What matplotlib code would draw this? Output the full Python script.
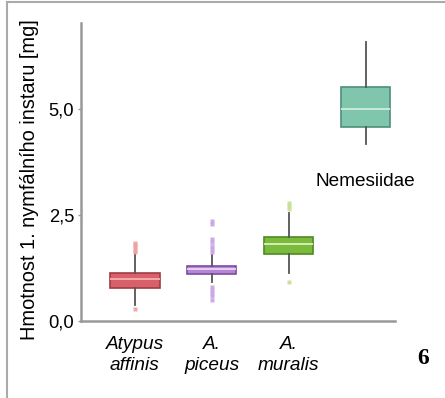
import numpy as np
import matplotlib
matplotlib.use("Agg")
import matplotlib.pyplot as plt
from matplotlib.lines import Line2D

plt.rcParams["font.family"] = ["Liberation Sans", "DejaVu Sans"]

# Place for data
labels = ["Atypus\naffinis", "A.\npiceus", "A.\nmuralis", ""]
medians = [0.98, 1.22, 1.81, 4.99]
q1 = [0.77, 1.12, 1.59, 4.58]
q3 = [1.13, 1.29, 1.99, 5.53]
whis_lo = [0.38, 0.92, 1.14, 4.17]
whis_hi = [1.58, 1.56, 2.54, 6.59]
fliers = [
    [0.28, 1.62, 1.68, 1.74, 1.80, 1.84],
    [0.50, 0.58, 0.66, 0.74, 0.81, 1.62, 1.70, 1.78, 1.86, 1.94, 2.28, 2.36],
    [0.91, 2.64, 2.72, 2.78],
    [],
]
fill = ["#d9606b", "#b585d6", "#7bba3c", "#7fc6ad"]
edge = ["#9e3b45", "#7c4ea0", "#4e8a23", "#4f8f7c"]
med_col = ["#f3b0b0", "#ecd2f5", "#dcf2b8", "#cdeee2"]
flier_col = ["#eea0a0", "#c9a2e2", "#c4e08e", "#a8dcc8"]
yticks = [0.0, 2.5, 5.0]
ytick_labels = ["0,0", "2,5", "5,0"]

fs = 13.7

fig = plt.figure(figsize=(4.45, 3.98), dpi=100)
ax = fig.add_axes([81 / 445, 77 / 398, 314 / 445, 298 / 398])

pos = np.arange(1, len(labels) + 1)
for i in range(len(labels)):
    st = [{"med": medians[i], "q1": q1[i], "q3": q3[i],
           "whislo": whis_lo[i], "whishi": whis_hi[i], "fliers": fliers[i]}]
    ax.bxp(st, positions=[pos[i]], widths=0.64, patch_artist=True,
           showcaps=False,
           boxprops=dict(facecolor=fill[i], edgecolor=edge[i], linewidth=1.2),
           medianprops=dict(color=med_col[i], linewidth=1.3),
           whiskerprops=dict(color="#555555", linewidth=1.3),
           flierprops=dict(marker="s", markersize=3.5, markerfacecolor=flier_col[i],
                           markeredgecolor="none", alpha=0.9))

ax.set_xlim(0.30, 4.38)
ax.set_ylim(0, 7.03)
ax.set_yticks(yticks)
ax.set_yticklabels(ytick_labels, fontsize=13.2)
ax.set_xticks(pos[:3])
ax.set_xticklabels(labels[:3], fontsize=fs, style="italic", linespacing=1.25)
ax.tick_params(axis="x", length=0, pad=11)
ax.tick_params(axis="y", length=2, width=1, color="#999999", pad=3)

for s in ["top", "right"]:
    ax.spines[s].set_visible(False)
for s in ["left", "bottom"]:
    ax.spines[s].set_color("#999999")
    ax.spines[s].set_linewidth(1.8)

ax.set_ylabel("Hmotnost 1. nymfálního instaru [mg]", fontsize=14.4)
ax.yaxis.set_label_coords(-0.135, 0.476)

ax.text(4, 3.28, "Nemesiidae", fontsize=fs, ha="center", va="center")

fig.text(423 / 445, 1 - 358 / 398, "6", fontsize=17, fontweight="bold",
         family="Liberation Serif", ha="center", va="center")

# frame lines of the original figure box
fig.add_artist(Line2D([7 / 445, 7 / 445], [0, 1 - 2 / 398], color="#aaaaaa", lw=1.5))
fig.add_artist(Line2D([7 / 445, 1], [1 - 2 / 398, 1 - 2 / 398], color="#aaaaaa", lw=1.5))

fig.savefig("out.png", dpi=100)
